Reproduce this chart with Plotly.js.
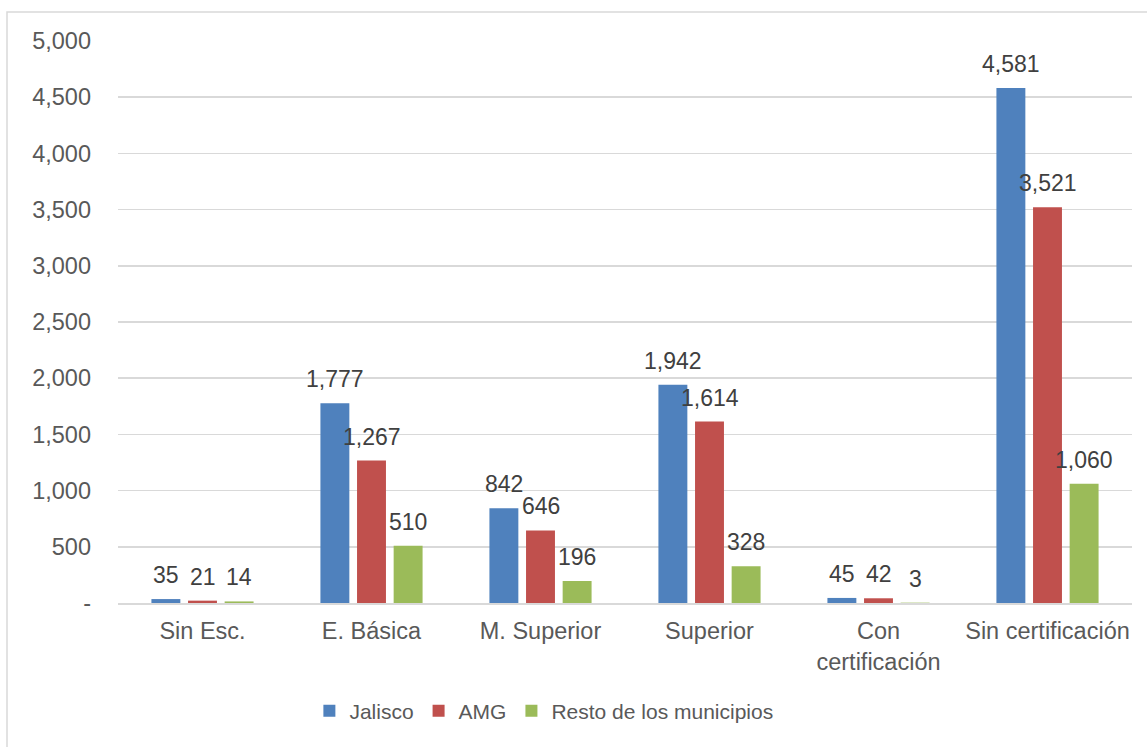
<!DOCTYPE html>
<html>
<head>
<meta charset="utf-8">
<script src="https://cdn.plot.ly/plotly-3.0.1.min.js"></script>
<style>
html,body{margin:0;padding:0;background:#fff;}
#chart{width:1147px;height:747px;}
</style>
</head>
<body>
<div id="chart"></div>
<script>
const categories = ["Sin Esc.", "E. Básica", "M. Superior", "Superior", "Con<br>certificación", "Sin certificación"];
const jalisco = [35, 1777, 842, 1942, 45, 4581];
const amg = [21, 1267, 646, 1614, 42, 3521];
const resto = [14, 510, 196, 328, 3, 1060];
const seriesNames = ["Jalisco", "AMG", "Resto de los municipios"];
const tickVals = [0, 500, 1000, 1500, 2000, 2500, 3000, 3500, 4000, 4500, 5000];
const tickText = ["-", "500", "1,000", "1,500", "2,000", "2,500", "3,000", "3,500", "4,000", "4,500", "5,000"];

const colors = ["#4F81BD", "#C0504D", "#9BBB59"];
const fontFam = "Liberation Sans, Arial, sans-serif";
const series = [jalisco, amg, resto];
const bargap = 0.35, bargroupgap = 0.21;

const data = series.map((vals, s) => ({
  type: "bar", x: categories, y: vals, name: seriesNames[s],
  marker: {color: colors[s]},
  hoverinfo: "none"
}));

// value labels placed at each bar's centre within its group
const slot = (1 - bargap) / series.length;
const annotations = [];
series.forEach((vals, s) => {
  vals.forEach((v, i) => {
    annotations.push({
      xref: "x", yref: "y", x: i + (s - (series.length - 1) / 2) * slot, y: v,
      text: v.toLocaleString("en-US"), showarrow: false,
      xanchor: "center", yanchor: "bottom", yshift: 9,
      font: {family: fontFam, size: 23, color: "#404040"}
    });
  });
});

const L = 118, R = 15, T = 41, B = 144, W = 1147, H = 747;
const pw = W - L - R, ph = H - T - B;
const layout = {
  width: W, height: H,
  margin: {l: L, r: R, t: T, b: B, pad: 0},
  paper_bgcolor: "#fff", plot_bgcolor: "#fff",
  barmode: "group", bargap: bargap, bargroupgap: bargroupgap,
  font: {family: fontFam, color: "#595959"},
  xaxis: {
    type: "category", tickfont: {size: 23.5, color: "#595959"},
    showgrid: false, showline: true, linecolor: "#D9D9D9", linewidth: 2,
    ticks: "", automargin: false, ticklabelstandoff: 6
  },
  yaxis: {
    range: [0, 5000], tickvals: tickVals, ticktext: tickText,
    tickfont: {size: 23.5, color: "#595959"},
    gridcolor: "#D9D9D9", gridwidth: 1.5, zeroline: false,
    showline: false, ticks: "", ticklabelstandoff: 26, automargin: false
  },
  legend: {
    orientation: "h", x: 0.42, xanchor: "center", y: (603 - 711) / ph, yanchor: "middle",
    font: {size: 21, color: "#595959"}, itemwidth: 30, traceorder: "normal"
  },
  showlegend: true,
  annotations: annotations,
  shapes: [{
    type: "rect", xref: "paper", yref: "paper",
    x0: (7 - L) / pw, x1: (1152 - L) / pw,
    y0: (T + ph - 752) / ph, y1: 1 + (T - 12) / ph,
    line: {color: "#D9D9D9", width: 1.5}, fillcolor: "rgba(0,0,0,0)", layer: "below"
  }]
};
Plotly.newPlot("chart", data, layout, {displayModeBar: false, staticPlot: true});
</script>
</body>
</html>
